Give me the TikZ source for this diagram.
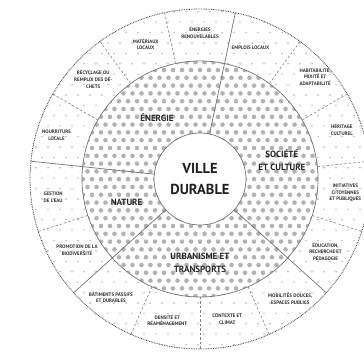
\documentclass[tikz,border=0pt]{standalone}
\usepackage{fontspec}
\setmainfont{PT Sans}
\begin{document}
\begin{tikzpicture}[
  ringline/.style={draw=black!55, line width=0.7pt},
  dashline/.style={draw=black!50, line width=0.6pt, dash pattern=on 2.5pt off 2pt},
  outlbl/.style={font=\fontsize{5}{6.6}\selectfont\bfseries, text=black!80, align=center, inner sep=0pt},
  midlbl/.style={font=\fontsize{9}{12.5}\selectfont\bfseries, text=black!85, align=center, inner sep=0pt},
  mdot/.style={fill=black!30},
  odot/.style={fill=black!33},
]
\useasboundingbox (0,0) rectangle (364pt,355pt);
\coordinate (C) at (200pt,176pt);

% outer ring dots
\begin{scope}
  \clip (C) circle (170pt);
  \foreach \j [evaluate=\j as \off using {6*mod(\j,2)}] in {0,...,35}
    \foreach \i in {0,...,31}
      \fill[odot] ({\i*12pt+\off pt}, {\j*10.4pt}) circle (0.8pt);
\end{scope}
\fill[white] (C) circle (118pt);
% middle ring dots
\begin{scope}
  \clip (C) circle (118pt);
  \foreach \j [evaluate=\j as \off using {4.5*mod(\j,2)}] in {0,...,32}
    \foreach \i in {0,...,28}
      \fill[mdot] ({74pt+\i*9pt+\off pt}, {51pt+\j*7.8pt}) circle (2.3pt);
\end{scope}

% rings
\draw[ringline] (C) circle (118pt);
\draw[black!70, line width=0.9pt, dash pattern=on 0.8pt off 0.9pt] (C) circle (170pt);
\node[circle, draw=black!55, line width=0.7pt, fill=white, minimum size=92pt, inner sep=0pt,
      font=\fontsize{14.5}{21}\selectfont\bfseries, text=black!88, align=center] (core) at (C) {VILLE\\DURABLE};

% sector lines
\foreach \a in {78,174,222,318}
  \draw[ringline] (core.\a) -- ([shift={(\a:170pt)}]C);
% sub-sector dashed lines
\foreach \a in {102,126,150,198,246,270,294,342,6,30,54}
  \draw[dashline] ([shift={(\a:118pt)}]C) -- ([shift={(\a:170pt)}]C);

% middle labels
\node[midlbl] (energie) at ([shift={(125:75pt)}]C) {ÉNERGIE};
\node[midlbl] (societe) at ([shift={(13:84pt)}]C) {SOCIÉTÉ\\ET CULTURE};
\node[midlbl] (nature) at ([shift={(197.5:77pt)}]C) {NATURE};
\node[midlbl] (urba) at ([shift={(270:84pt)}]C) {URBANISME ET\\TRANSPORTS};

% outer labels
\node[outlbl] (o1) at ([shift={(90:146pt)}]C) {ÉNERGIES\\RENOUVELABLES};
\node[outlbl] (o2) at ([shift={(112:145pt)}]C) {MATÉRIAUX\\LOCAUX};
\node[outlbl] (o3) at ([shift={(137:146pt)}]C) {RÉCYCLAGE OU\\REMPLOI DES DÉ-\\CHETS};
\node[outlbl] (o4) at ([shift={(163:150pt)}]C) {NOURRITURE\\LOCALE};
\node[outlbl] (o5) at ([shift={(187:148pt)}]C) {GESTION\\DE L'EAU};
\node[outlbl] (o6) at ([shift={(210:142pt)}]C) {PROMOTION DE LA\\BIODIVERSITÉ};
\node[outlbl] (o7) at ([shift={(233:148pt)}]C) {BÂTIMENTS PASSIFS\\ET DURABLES};
\node[outlbl] (o8) at ([shift={(257:145pt)}]C) {DENSITÉ ET\\RÉAMÉNAGEMENT};
\node[outlbl] (o9) at ([shift={(281:143pt)}]C) {CONTEXTE ET\\CLIMAT};
\node[outlbl] (o10) at ([shift={(307:150pt)}]C) {MOBILITÉS DOUCES,\\ESPACES PUBLICS};
\node[outlbl] (o11) at ([shift={(330:145pt)}]C) {ÉDUCATION,\\RECHERCHE ET\\PÉDAGOGIE};
\node[outlbl] (o12) at ([shift={(354.5:146pt)}]C) {INITIATIVES\\CITOYENNES\\ET PUBLIQUES};
\node[outlbl] (o13) at ([shift={(19:150pt)}]C) {HÉRITAGE\\CULTUREL};
\node[outlbl] (o14) at ([shift={(41.6:154pt)}]C) {HABITABILITÉ,\\MIXITÉ ET\\ADAPTABILITÉ};
\node[outlbl] (o15) at ([shift={(69:141pt)}]C) {EMPLOIS LOCAUX};
\end{tikzpicture}
\end{document}
